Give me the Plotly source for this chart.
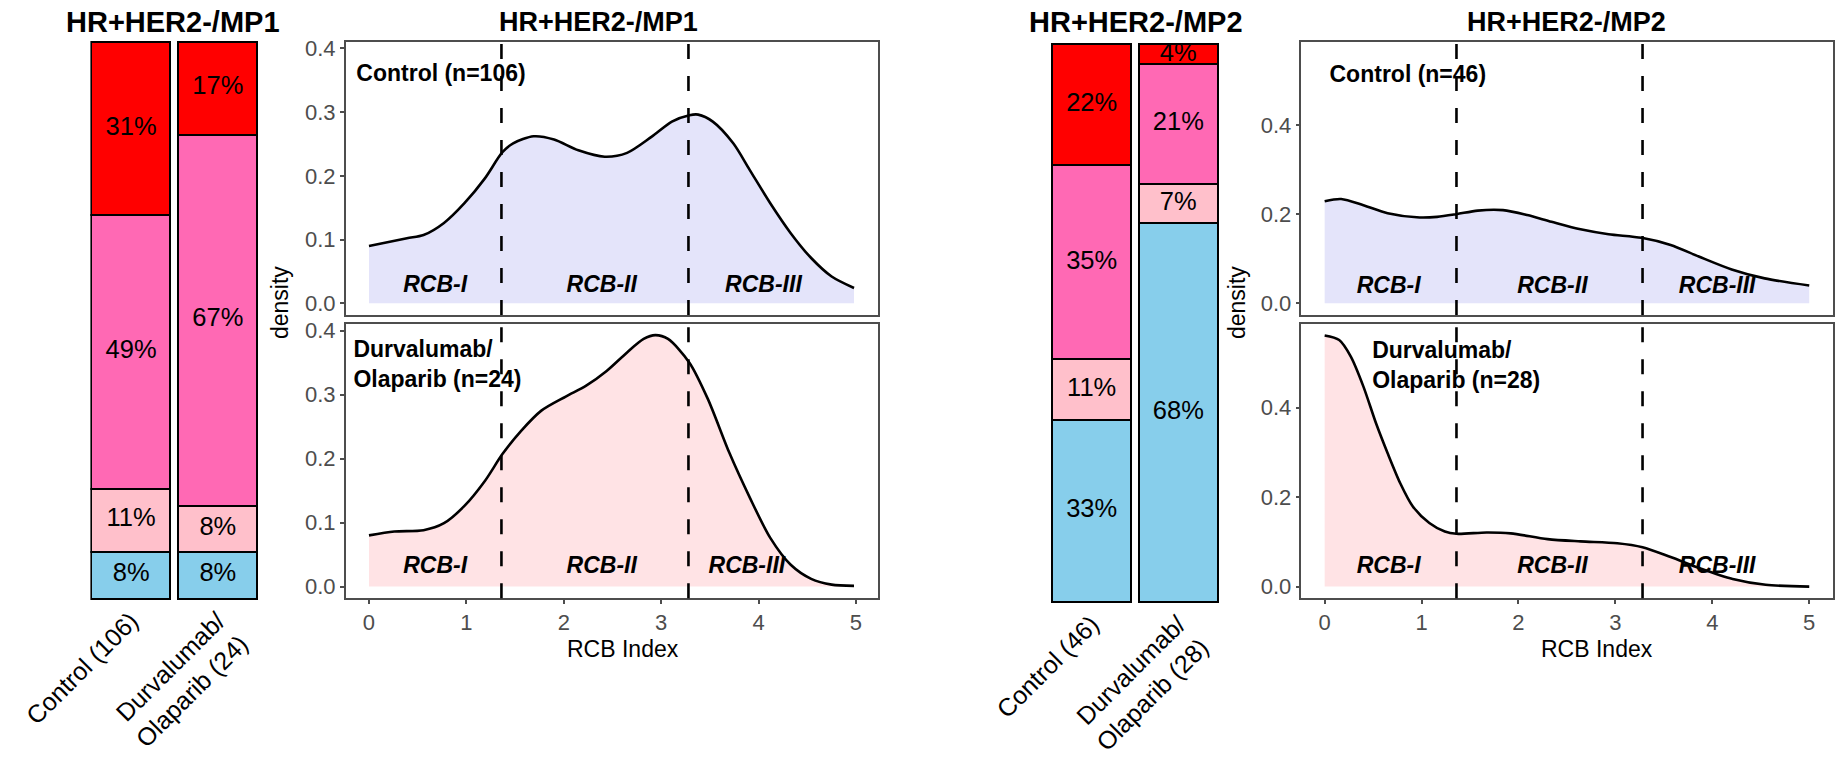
import plotly.graph_objects as go

W, H = 1841, 757

# ---------------- data ----------------
groups_mp1 = ["Control (106)", "Durvalumab/<br>Olaparib (24)"]
groups_mp2 = ["Control (46)", "Durvalumab/<br>Olaparib (28)"]
rcb_classes = ["pCR", "RCB-I", "RCB-II", "RCB-III"]  # bottom -> top
class_colors = ["#87CEEB", "#FFC0CB", "#FF69B4", "#FF0000"]

# counts per class (pCR, RCB-I, RCB-II, RCB-III)
mp1_control_counts = [9, 12, 52, 33]
mp1_durva_counts = [2, 2, 16, 4]
mp2_control_counts = [15, 5, 16, 10]
mp2_durva_counts = [19, 2, 6, 1]

rcb_thresholds = [1.36, 3.28]

mp1_ctrl_x = [0.00, 0.39, 0.56, 0.77, 0.98, 1.19, 1.37, 1.48, 1.69, 1.90, 2.15, 2.42, 2.65,
              2.90, 3.11, 3.29, 3.38, 3.53, 3.74, 3.91, 4.12, 4.33, 4.54, 4.75, 4.98]
mp1_ctrl_y = [0.090, 0.102, 0.107, 0.126, 0.157, 0.196, 0.237, 0.251, 0.262, 0.257, 0.240, 0.230, 0.236,
              0.261, 0.285, 0.295, 0.296, 0.285, 0.251, 0.209, 0.157, 0.110, 0.071, 0.042, 0.024]

mp1_durva_x = [0.00, 0.26, 0.56, 0.77, 0.98, 1.19, 1.37, 1.56, 1.77, 2.02, 2.23, 2.44, 2.65,
               2.82, 2.94, 3.07, 3.29, 3.48, 3.70, 3.91, 4.12, 4.33, 4.54, 4.75, 4.98]
mp1_durva_y = [0.080, 0.086, 0.088, 0.099, 0.126, 0.165, 0.207, 0.243, 0.275, 0.297, 0.314, 0.337, 0.366,
               0.387, 0.393, 0.387, 0.350, 0.293, 0.209, 0.139, 0.076, 0.034, 0.012, 0.003, 0.001]

mp2_ctrl_x = [0.00, 0.17, 0.40, 0.65, 0.95, 1.16, 1.36, 1.58, 1.84, 2.09, 2.34, 2.64, 2.93,
              3.27, 3.57, 3.86, 4.20, 4.54, 5.00]
mp2_ctrl_y = [0.229, 0.234, 0.220, 0.202, 0.193, 0.194, 0.200, 0.208, 0.209, 0.198, 0.183, 0.166, 0.155,
              0.147, 0.131, 0.105, 0.076, 0.056, 0.040]

mp2_durva_x = [0.00, 0.15, 0.27, 0.40, 0.53, 0.65, 0.78, 0.91, 1.08, 1.24, 1.36, 1.67, 1.92,
               2.30, 2.64, 3.02, 3.28, 3.57, 3.87, 4.21, 4.55, 5.00]
mp2_durva_y = [0.561, 0.551, 0.514, 0.447, 0.365, 0.298, 0.231, 0.179, 0.142, 0.123, 0.118, 0.121, 0.119,
               0.106, 0.101, 0.097, 0.088, 0.066, 0.041, 0.017, 0.004, 0.000]

# ---------------- helpers ----------------
def px_x(p):
    return p / W

def px_y(p):
    return 1 - p / H

FONT = "Liberation Sans, Arial, Helvetica"
GREY = "#4D4D4D"

fig = go.Figure()

# ---------------- stacked bars ----------------
def add_bars(xa, ya, counts_list):
    fracs = [[c / sum(cnts) for c in cnts] for cnts in counts_list]
    for k, cls in enumerate(rcb_classes):
        fig.add_trace(go.Bar(
            x=[0, 1], y=[f[k] for f in fracs], width=0.91,
            marker=dict(color=class_colors[k], line=dict(color="black", width=2)),
            xaxis=xa, yaxis=ya, showlegend=False, hoverinfo="skip", name=cls))
    for gi, f in enumerate(fracs):
        cum = 0
        xs, ys, ts = [], [], []
        for k in range(len(rcb_classes)):
            xs.append(gi)
            ys.append(cum + f[k] / 2)
            ts.append(f"{round(f[k] * 100)}%")
            cum += f[k]
        fig.add_trace(go.Scatter(
            x=xs, y=ys, text=ts, mode="text", textposition="middle center",
            textfont=dict(family=FONT, size=25.5, color="black"),
            xaxis=xa, yaxis=ya, showlegend=False, hoverinfo="skip", cliponaxis=False))

add_bars("x", "y", [mp1_control_counts, mp1_durva_counts])
add_bars("x4", "y4", [mp2_control_counts, mp2_durva_counts])

# ---------------- density panels ----------------
def add_density(xa, ya, xs, ys, fill):
    fig.add_trace(go.Scatter(
        x=xs, y=ys, mode="lines", fill="tozeroy", fillcolor=fill,
        line=dict(color="black", width=2.6, shape="spline", smoothing=0.8),
        xaxis=xa, yaxis=ya, showlegend=False, hoverinfo="skip"))

LAV = "#E4E4FA"
ROSE = "#FFE3E5"
add_density("x2", "y2", mp1_ctrl_x, mp1_ctrl_y, LAV)
add_density("x3", "y3", mp1_durva_x, mp1_durva_y, ROSE)
add_density("x5", "y5", mp2_ctrl_x, mp2_ctrl_y, LAV)
add_density("x6", "y6", mp2_durva_x, mp2_durva_y, ROSE)

def add_text(xa, ya, x, y, text, pos="middle right"):
    fig.add_trace(go.Scatter(
        x=[x], y=[y], text=[text], mode="text", textposition=pos,
        textfont=dict(family=FONT, size=23, color="black"),
        xaxis=xa, yaxis=ya, showlegend=False, hoverinfo="skip", cliponaxis=False))

# group labels
add_text("x2", "y2", -0.13, 0.357, "<b>Control (n=106)</b>")
add_text("x3", "y3", -0.16, 0.344, "<b>Durvalumab/<br>Olaparib (n=24)</b>")
add_text("x5", "y5", 0.05, 0.51, "<b>Control (n=46)</b>")
add_text("x6", "y6", 0.49, 0.49, "<b>Durvalumab/<br>Olaparib (n=28)</b>")

# RCB region labels
rcb_labels = ["RCB-I", "RCB-II", "RCB-III"]
for xa, ya, xs, yv in [("x2", "y2", [0.68, 2.39, 4.05], 0.026),
                       ("x3", "y3", [0.68, 2.39, 3.88], 0.030),
                       ("x5", "y5", [0.66, 2.35, 4.05], 0.037),
                       ("x6", "y6", [0.66, 2.35, 4.05], 0.043)]:
    for lab, xv in zip(rcb_labels, xs):
        add_text(xa, ya, xv, yv, f"<b><i>{lab}</i></b>", pos="middle center")

# dashed threshold lines (above the text)
shapes = []
for xa, ya in [("x2", "y2"), ("x3", "y3"), ("x5", "y5"), ("x6", "y6")]:
    for t in rcb_thresholds:
        shapes.append(dict(type="line", xref=xa, yref=f"{ya} domain", x0=t, x1=t, y0=0, y1=1,
                           line=dict(color="black", width=2.6, dash="15px,17px"), layer="above"))

# ---------------- axes ----------------
bar_x_common = dict(range=[-0.47, 1.47], tickvals=[0, 1], tickangle=-45, showline=False,
                    showgrid=False, zeroline=False, ticks="", automargin=False,
                    tickfont=dict(family=FONT, size=25, color="black"))
bar_y_common = dict(range=[-0.004, 1.004], visible=False, showgrid=False, zeroline=False,
                    automargin=False)

dens_common = dict(showline=True, mirror=True, linecolor=GREY, linewidth=1.5, showgrid=False,
                   zeroline=False, ticks="outside", ticklen=4, tickwidth=1.5, tickcolor=GREY,
                   automargin=False, tickfont=dict(family=FONT, size=22, color=GREY))

mp1_xr = [-0.239, 5.222]
mp2_xr = [-0.240, 5.240]
mp1_yr = [-0.0184, 0.4104]
mp2_yr = [-0.0262, 0.5869]

MP1_X = [px_x(345.7), px_x(877.6)]
MP2_X = [px_x(1301.4), px_x(1832.5)]
TOP_Y = [px_y(315), px_y(41.7)]
BOT_Y = [px_y(598.3), px_y(324)]

layout_axes = dict(
    xaxis=dict(domain=[px_x(90.4), px_x(258.6)], anchor="y", ticktext=groups_mp1, **bar_x_common),
    yaxis=dict(domain=[px_y(600.5), px_y(39.5)], anchor="x", **bar_y_common),
    xaxis4=dict(domain=[px_x(1051.0), px_x(1219.0)], anchor="y4", ticktext=groups_mp2, **bar_x_common),
    yaxis4=dict(domain=[px_y(603.9), px_y(42.1)], anchor="x4", **bar_y_common),

    xaxis2=dict(domain=MP1_X, anchor="y2", range=mp1_xr, showticklabels=False,
                **{**dens_common, "ticks": ""}),
    yaxis2=dict(domain=TOP_Y, anchor="x2", range=mp1_yr,
                tickvals=[0, 0.1, 0.2, 0.3, 0.4], ticktext=["0.0", "0.1", "0.2", "0.3", "0.4"], **dens_common),
    xaxis3=dict(domain=MP1_X, anchor="y3", range=mp1_xr,
                tickvals=[0, 1, 2, 3, 4, 5], **dens_common),
    yaxis3=dict(domain=BOT_Y, anchor="x3", range=mp1_yr,
                tickvals=[0, 0.1, 0.2, 0.3, 0.4], ticktext=["0.0", "0.1", "0.2", "0.3", "0.4"], **dens_common),

    xaxis5=dict(domain=MP2_X, anchor="y5", range=mp2_xr, showticklabels=False,
                **{**dens_common, "ticks": ""}),
    yaxis5=dict(domain=TOP_Y, anchor="x5", range=mp2_yr,
                tickvals=[0, 0.2, 0.4], ticktext=["0.0", "0.2", "0.4"], **dens_common),
    xaxis6=dict(domain=MP2_X, anchor="y6", range=mp2_xr,
                tickvals=[0, 1, 2, 3, 4, 5], **dens_common),
    yaxis6=dict(domain=BOT_Y, anchor="x6", range=mp2_yr,
                tickvals=[0, 0.2, 0.4], ticktext=["0.0", "0.2", "0.4"], **dens_common),
)

annotations = []
def ann(x, y, text, size, angle=0, color="black"):
    annotations.append(dict(x=px_x(x), y=px_y(y), xref="paper", yref="paper", text=text,
                            showarrow=False, textangle=angle, xanchor="center", yanchor="middle",
                            font=dict(size=size, family=FONT, color=color)))

ann(173.3, 21.7, "<b>HR+HER2-/MP1</b>", 29)
ann(1135.8, 21.7, "<b>HR+HER2-/MP2</b>", 29)
ann(598.8, 22.5, "<b>HR+HER2-/MP1</b>", 27)
ann(1566.9, 22.5, "<b>HR+HER2-/MP2</b>", 27)
ann(280, 303, "density", 23, angle=-90)
ann(1237, 303, "density", 23, angle=-90)
ann(622.9, 648.5, "RCB Index", 23)
ann(1597, 648.5, "RCB Index", 23)

fig.update_layout(
    width=W, height=H, margin=dict(l=0, r=0, t=0, b=0, autoexpand=False), autosize=False,
    paper_bgcolor="white", plot_bgcolor="rgba(0,0,0,0)",
    barmode="stack", bargap=0, showlegend=False,
    shapes=shapes, annotations=annotations, **layout_axes)

fig.write_html("out.html")
